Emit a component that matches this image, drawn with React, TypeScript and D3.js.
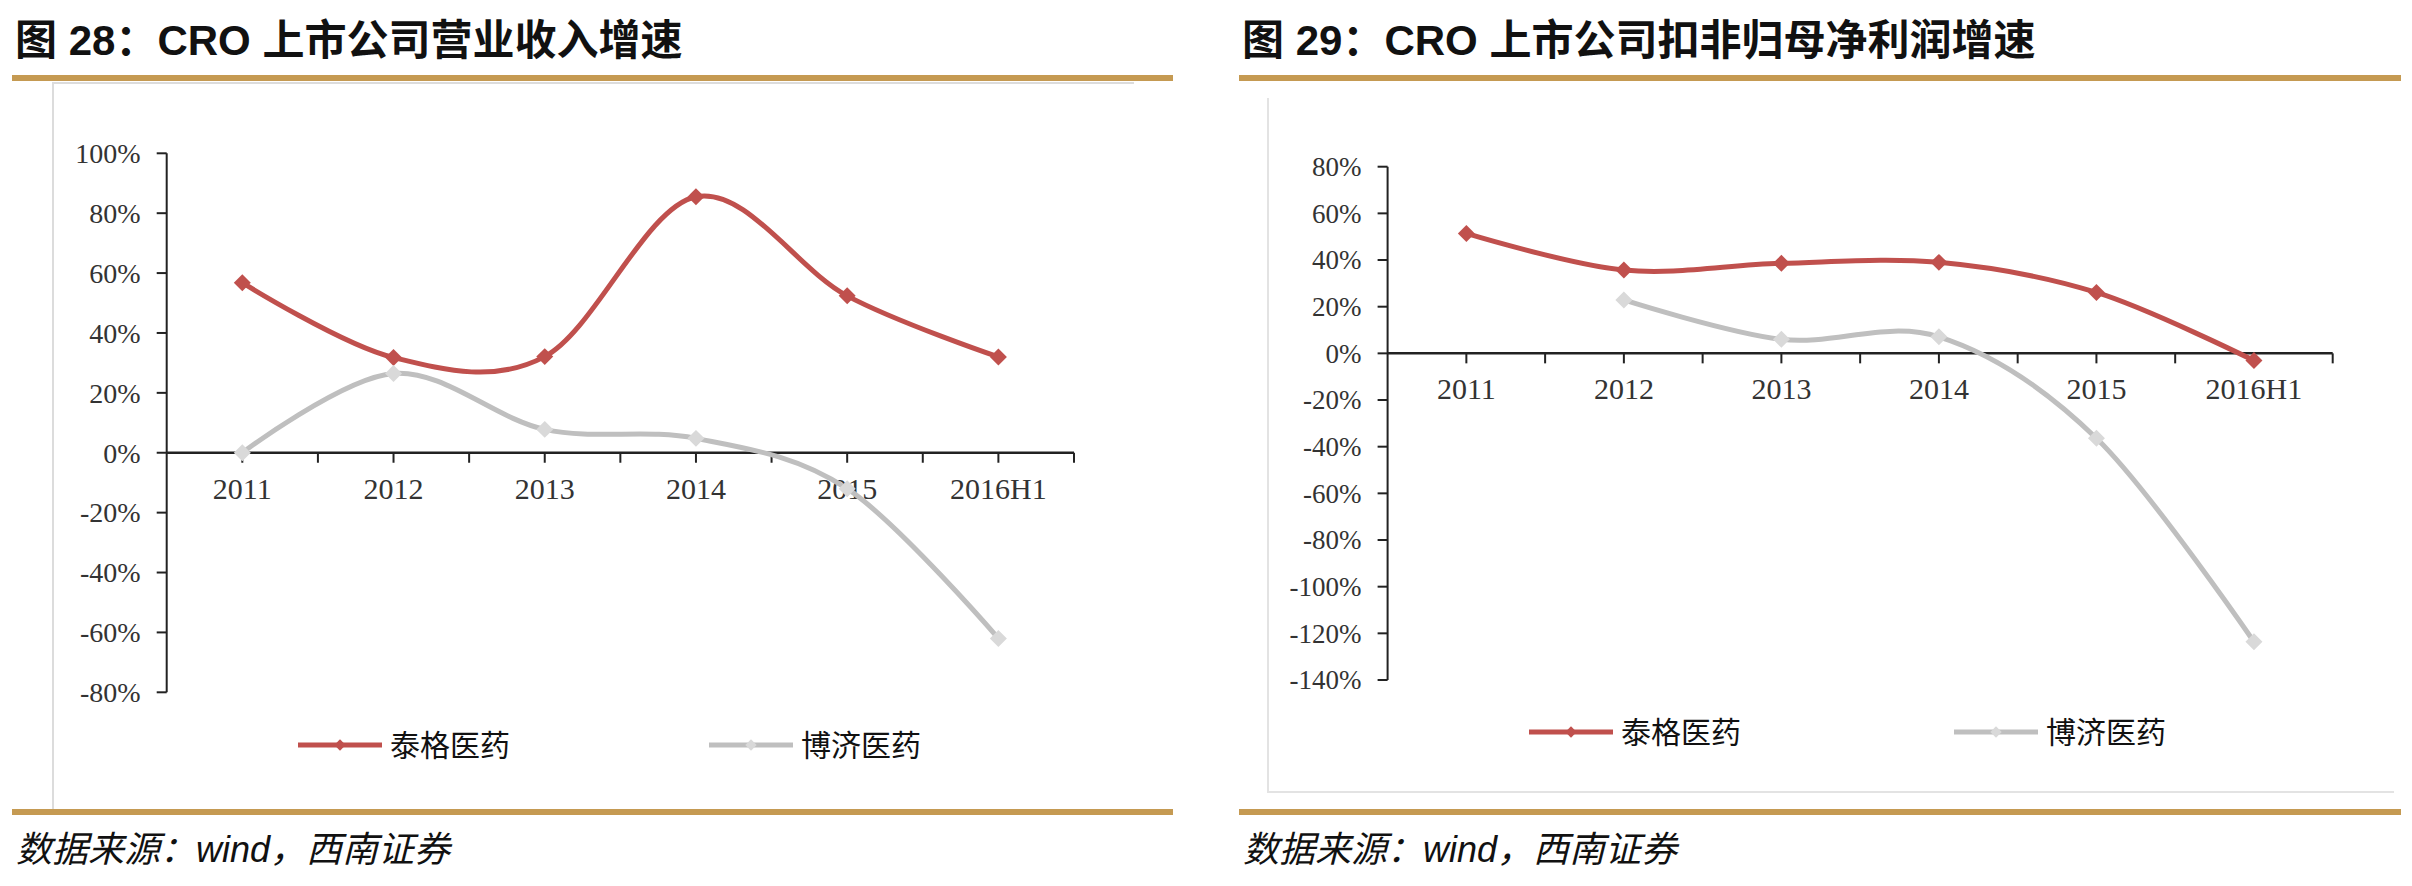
import React, { useEffect, useRef } from 'react';
import * as d3 from 'd3';

// categories shared by both charts
const categories = ['2011', '2012', '2013', '2014', '2015', '2016H1'];
const seriesNames = ['泰格医药', '博济医药'];

// 图28: 营业收入增速 (%)
const revenueTigermed = [56.8, 31.8, 32.1, 85.5, 52.4, 32.0];
const revenueBoji = [0, 26.5, 7.8, 4.8, -12.0, -62.0];
const revenueTicks = [100, 80, 60, 40, 20, 0, -20, -40, -60, -80];

// 图29: 扣非归母净利润增速 (%)
const profitTigermed = [51.4, 35.7, 38.6, 39.0, 26.1, -3.1];
const profitBoji: (number | null)[] = [null, 22.9, 6.0, 7.1, -36.4, -123.6];
const profitTicks = [80, 60, 40, 20, 0, -20, -40, -60, -80, -100, -120, -140];

const RED = '#C0504D';
const GRAY = '#BFBFBF';
const GRAY_MARK = '#D9D9D9';
const TAN = '#C59A52';
const NUM_FONT = '"Liberation Serif", "DejaVu Serif", serif';
const CJK_FONT = '"Noto Sans CJK SC", "Noto Sans", sans-serif';

interface PanelConfig {
  title: string;
  left: number; // outer left of the panel
  right: number;
  axisLeft: number;
  axisRight: number;
  yTopPx: number;
  yBottomPx: number;
  ticks: number[];
  series: (number | null)[][];
  legendY: number;
  legendX: [number, number];
  tickFont: number;
  box: 'top' | 'bottom';
}

const panels: PanelConfig[] = [
  {
    title: '图 28：CRO 上市公司营业收入增速',
    left: 12,
    right: 1173,
    axisLeft: 166.7,
    axisRight: 1074,
    yTopPx: 153.3,
    yBottomPx: 692.3,
    ticks: revenueTicks,
    series: [revenueTigermed, revenueBoji],
    legendY: 745,
    legendX: [298, 709],
    tickFont: 28,
    box: 'top',
  },
  {
    title: '图 29：CRO 上市公司扣非归母净利润增速',
    left: 1239,
    right: 2401,
    axisLeft: 1387.6,
    axisRight: 2332.7,
    yTopPx: 166.7,
    yBottomPx: 680,
    ticks: profitTicks,
    series: [profitTigermed, profitBoji],
    legendY: 732,
    legendX: [1529, 1954],
    tickFont: 27,
    box: 'bottom',
  },
];

const drawPanel = (svg: d3.Selection<SVGSVGElement, unknown, null, undefined>, p: PanelConfig) => {
  const g = svg.append('g');

  // title
  g.append('text')
    .attr('x', p.left + 3)
    .attr('y', 55)
    .attr('font-family', `"Liberation Sans", Arial, ${CJK_FONT}`)
    .attr('font-weight', 'bold')
    .attr('font-size', 42)
    .attr('fill', '#111')
    .text(p.title);

  // tan rules
  [78, 812].forEach((yy) => {
    g.append('rect')
      .attr('x', p.left)
      .attr('y', yy - 3)
      .attr('width', p.right - p.left)
      .attr('height', 6)
      .attr('fill', TAN);
  });

  // faint chart frame
  if (p.box === 'top') {
    g.append('path')
      .attr('d', `M${p.left + 41},809V83H${p.right - 39}`)
      .attr('fill', 'none')
      .attr('stroke', '#DCDCDC')
      .attr('stroke-width', 2);
  } else {
    g.append('path')
      .attr('d', `M${p.left + 29},98V792H${p.right - 7}`)
      .attr('fill', 'none')
      .attr('stroke', '#E3E3E3')
      .attr('stroke-width', 2);
  }

  // source
  g.append('text')
    .attr('x', p.left + 4)
    .attr('y', 862)
    .attr('font-family', `"Liberation Sans", Arial, ${CJK_FONT}`)
    .attr('font-style', 'italic')
    .attr('font-size', 36)
    .attr('fill', '#111')
    .text('数据来源：wind，西南证券');

  const yMax = d3.max(p.ticks) as number;
  const yMin = d3.min(p.ticks) as number;
  const y = d3.scaleLinear().domain([yMin, yMax]).range([p.yBottomPx, p.yTopPx]);
  const x = d3.scaleBand<string>().domain(categories).range([p.axisLeft, p.axisRight]);
  const cx = (i: number) => (x(categories[i]) as number) + x.bandwidth() / 2;

  // y axis
  g.append('line')
    .attr('x1', p.axisLeft).attr('x2', p.axisLeft)
    .attr('y1', y(yMax)).attr('y2', y(yMin))
    .attr('stroke', '#222').attr('stroke-width', 2);
  p.ticks.forEach((t) => {
    g.append('line')
      .attr('x1', p.axisLeft - 10).attr('x2', p.axisLeft)
      .attr('y1', y(t)).attr('y2', y(t))
      .attr('stroke', '#222').attr('stroke-width', 2);
    g.append('text')
      .attr('x', p.axisLeft - 26)
      .attr('y', y(t))
      .attr('dy', '0.35em')
      .attr('text-anchor', 'end')
      .attr('font-family', NUM_FONT)
      .attr('font-size', p.tickFont)
      .attr('fill', '#333')
      .text(`${t}%`);
  });

  // x axis at zero, ticks at band centres and edges
  g.append('line')
    .attr('x1', p.axisLeft).attr('x2', p.axisRight)
    .attr('y1', y(0)).attr('y2', y(0))
    .attr('stroke', '#222').attr('stroke-width', 2.5);
  const halfStep = x.step() / 2;
  d3.range(1, categories.length * 2 + 1).forEach((k) => {
    const xx = p.axisLeft + k * halfStep;
    g.append('line')
      .attr('x1', xx).attr('x2', xx)
      .attr('y1', y(0)).attr('y2', y(0) + 10)
      .attr('stroke', '#222').attr('stroke-width', 2);
  });
  categories.forEach((c, i) => {
    g.append('text')
      .attr('x', cx(i))
      .attr('y', y(0) + 46)
      .attr('text-anchor', 'middle')
      .attr('font-family', NUM_FONT)
      .attr('font-size', 30)
      .attr('fill', '#333')
      .text(c);
  });

  // smoothed lines
  const line = d3.line<number | null>()
    .defined((d) => d != null)
    .x((_, i) => cx(i))
    .y((d) => y(d as number))
    .curve(d3.curveCardinal.tension(0));

  const colors = [RED, GRAY];
  const markColors = [RED, GRAY_MARK];
  const diamond = d3.symbol(d3.symbolSquare, 144)();

  p.series.forEach((vals, si) => {
    g.append('path')
      .attr('d', line(vals) as string)
      .attr('fill', 'none')
      .attr('stroke', colors[si])
      .attr('stroke-width', 5)
      .attr('stroke-linecap', 'round');
    vals.forEach((v, i) => {
      if (v == null) return;
      g.append('path')
        .attr('d', diamond)
        .attr('transform', `translate(${cx(i)},${y(v)}) rotate(45)`)
        .attr('fill', markColors[si]);
    });
  });

  // legend
  const legendMark = d3.symbol(d3.symbolSquare, 64)();
  seriesNames.forEach((name, si) => {
    const lx = p.legendX[si];
    g.append('line')
      .attr('x1', lx).attr('x2', lx + 84)
      .attr('y1', p.legendY).attr('y2', p.legendY)
      .attr('stroke', colors[si])
      .attr('stroke-width', 5);
    g.append('path')
      .attr('d', legendMark)
      .attr('transform', `translate(${lx + 42},${p.legendY}) rotate(45)`)
      .attr('fill', markColors[si]);
    g.append('text')
      .attr('x', lx + 92)
      .attr('y', p.legendY)
      .attr('dy', '0.36em')
      .attr('font-family', CJK_FONT)
      .attr('font-size', 30)
      .attr('fill', '#111')
      .text(name);
  });
};

const App: React.FC = () => {
  const svgRef = useRef<SVGSVGElement>(null);

  useEffect(() => {
    if (!svgRef.current) return;
    const svg = d3.select(svgRef.current);
    svg.selectAll('*').remove();
    svg.append('rect').attr('width', 2412).attr('height', 886).attr('fill', '#fff');
    panels.forEach((p) => drawPanel(svg, p));
  }, []);

  return (
    <svg
      ref={svgRef}
      width={2412}
      height={886}
      style={{ position: 'absolute', left: 0, top: 0, display: 'block' }}
    />
  );
};

export default App;
